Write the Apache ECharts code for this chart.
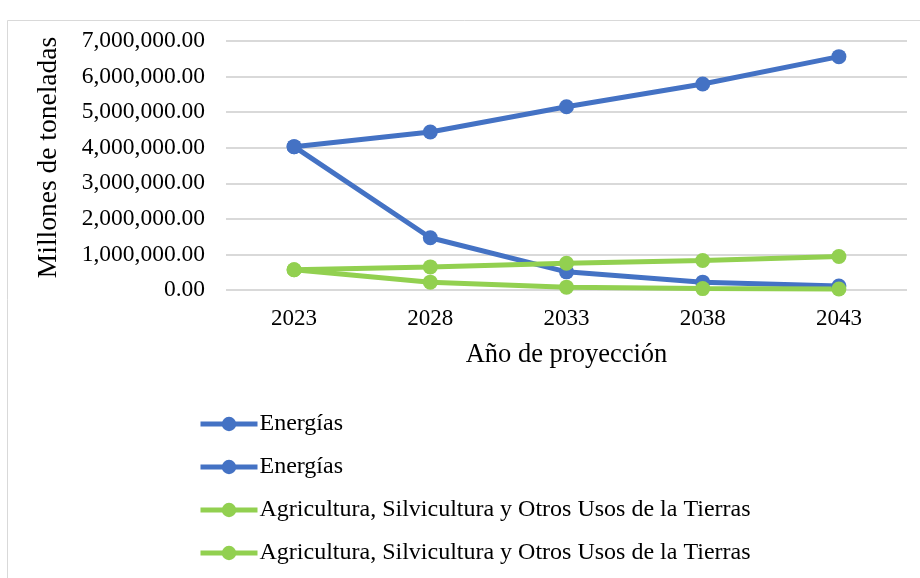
<!DOCTYPE html>
<html>
<head>
<meta charset="utf-8">
<script src="https://cdn.jsdelivr.net/npm/echarts@6/dist/echarts.min.js"></script>
<style>
  html, body { margin: 0; padding: 0; background: #fff; }
  #chart { width: 920px; height: 578px; }
</style>
</head>
<body>
<div id="chart"></div>
<script>
// Projection years
const years = ['2023', '2028', '2033', '2038', '2043'];

// Emissions projections (toneladas)
const energiasAlta = [4030000, 4440000, 5150000, 5790000, 6560000];
const energiasBaja = [4030000, 1470000, 510000, 220000, 110000];
const agriAlta = [570000, 650000, 750000, 830000, 940000];
const agriBaja = [570000, 220000, 80000, 40000, 30000];

// Y axis ticks
const yMin = 0;
const yMax = 7000000;
const yStep = 1000000;

const labelEnergias = 'Energías';
const labelAgri = 'Agricultura, Silvicultura y Otros Usos de la Tierras';

const BLUE = '#4472C4';
const GREEN = '#92D050';
const FONT = '"Liberation Serif", "Times New Roman", serif';

// series keys -> displayed legend label
const seriesDefs = [
  { key: 'e1', label: labelEnergias, data: energiasAlta, color: BLUE },
  { key: 'e2', label: labelEnergias, data: energiasBaja, color: BLUE },
  { key: 'a1', label: labelAgri, data: agriAlta, color: GREEN },
  { key: 'a2', label: labelAgri, data: agriBaja, color: GREEN }
];
const labelByKey = {};
seriesDefs.forEach(d => { labelByKey[d.key] = d.label; });

function fmt(v) {
  return v.toLocaleString('en-US', { minimumFractionDigits: 2, maximumFractionDigits: 2 });
}

const chart = echarts.init(document.getElementById('chart'), null, { renderer: 'canvas' });

chart.setOption({
  backgroundColor: '#fff',
  animation: false,
  textStyle: { fontFamily: FONT, color: '#000' },
  graphic: [{
    type: 'rect',
    shape: { x: 7.5, y: 20.5, width: 930, height: 600 },
    style: { fill: 'none', stroke: '#d9d9d9', lineWidth: 1 },
    silent: true
  }],
  grid: { left: 226, right: 13, top: 41, bottom: 288, containLabel: false },
  xAxis: {
    type: 'category',
    data: years,
    boundaryGap: true,
    axisLine: { show: false },
    axisTick: { show: false },
    axisLabel: { fontFamily: FONT, fontSize: 23, color: '#000', margin: 17 },
    name: 'Año de proyección',
    nameLocation: 'middle',
    nameGap: 52,
    nameTextStyle: { fontFamily: FONT, fontSize: 26.5, color: '#000' }
  },
  yAxis: {
    type: 'value',
    min: yMin,
    max: yMax,
    interval: yStep,
    axisLine: { show: false },
    axisTick: { show: false },
    axisLabel: { fontFamily: FONT, fontSize: 23.5, color: '#000', margin: 21, formatter: fmt },
    splitLine: { lineStyle: { color: '#d9d9d9', width: 2 } },
    name: 'Millones de toneladas',
    nameLocation: 'middle',
    nameGap: 163,
    nameTextStyle: { fontFamily: FONT, fontSize: 27.5, color: '#000', padding: [0, 0, 0, 16] }
  },
  legend: {
    orient: 'vertical',
    left: 193,
    top: 407,
    itemGap: 19,
    itemWidth: 57,
    itemHeight: 18,
    data: seriesDefs.map(d => d.key),
    formatter: name => labelByKey[name],
    lineStyle: { width: 5 },
    textStyle: { fontFamily: FONT, fontSize: 24, color: '#000', padding: [0, 0, 0, -3] }
  },
  series: seriesDefs.map(d => ({
    name: d.key,
    type: 'line',
    data: d.data,
    symbol: 'circle',
    symbolSize: 15,
    lineStyle: { color: d.color, width: 5 },
    itemStyle: { color: d.color },
    emphasis: { disabled: true }
  }))
});
</script>
</body>
</html>
